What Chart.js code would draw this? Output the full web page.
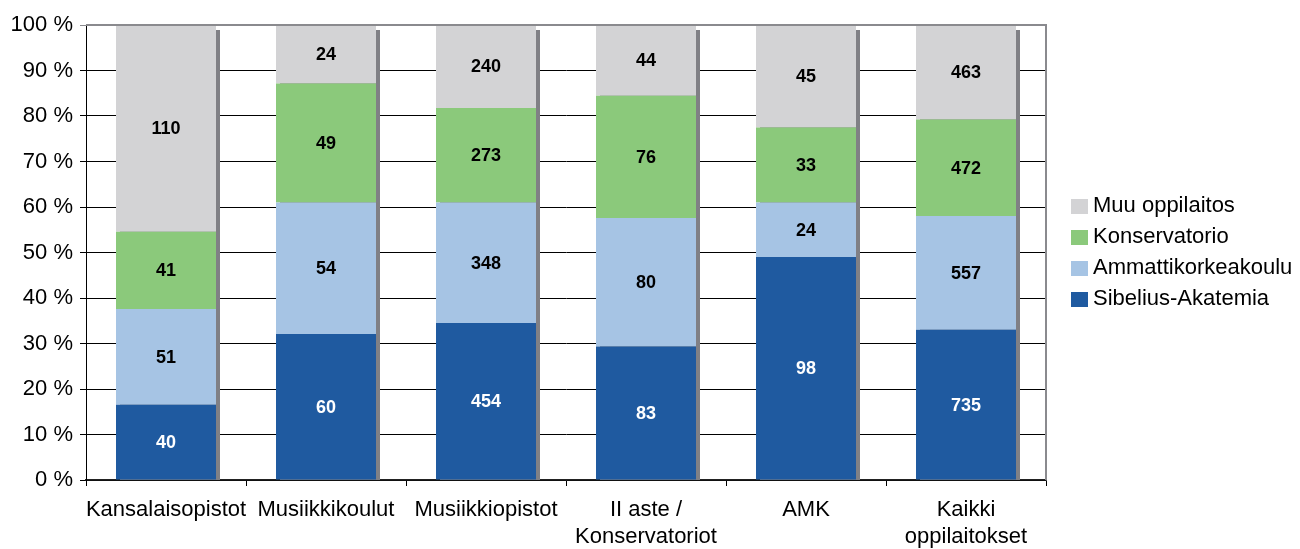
<!DOCTYPE html>
<html>
<head>
<meta charset="utf-8">
<script src="https://cdn.jsdelivr.net/npm/chart.js@4.4.1/dist/chart.umd.min.js"></script>
<style>
    body { margin: 0; background: #fff; }
    #wrap { position: relative; width: 1300px; height: 549px; }
    #legend { position: absolute; left: 1071px; top: 189px; font-family: "Liberation Sans", Arial, sans-serif; font-size: 22px; color: #000; }
    #legend .item { display: flex; align-items: center; height: 31px; white-space: nowrap; }
    #legend .box { width: 17px; height: 15px; margin-right: 5px; position: relative; top: 2px; }
</style>
</head>
<body>
<div id="wrap">
    <canvas id="chart" width="1300" height="549"></canvas>
    <div id="legend"></div>
</div>
<script>
    // oppilaitos-luokat ja lukumäärät
    var categories = ['Kansalaisopistot', 'Musiikkikoulut', 'Musiikkiopistot', ['II aste /', 'Konservatoriot'], 'AMK', ['Kaikki', 'oppilaitokset']];
    var sibelius = [40, 60, 454, 83, 98, 735];
    var amk = [51, 54, 348, 80, 24, 557];
    var konservatorio = [41, 49, 273, 76, 33, 472];
    var muu = [110, 24, 240, 44, 45, 463];
    var seriesNames = ['Sibelius-Akatemia', 'Ammattikorkeakoulu', 'Konservatorio', 'Muu oppilaitos'];
    var seriesColors = ['#1f5aa0', '#a6c4e4', '#8bc97b', '#d3d3d5'];
    var labelColors = ['#fff', '#000', '#000', '#000'];

    var counts = [sibelius, amk, konservatorio, muu];
    var totals = categories.map(function (c, i) {
        return sibelius[i] + amk[i] + konservatorio[i] + muu[i];
    });

    function toPct(arr) {
        return arr.map(function (v, i) { return v / totals[i] * 100; });
    }

    var FONT = '"Liberation Sans", Arial, sans-serif';

    var barShadow = {
        id: 'barShadow',
        beforeDatasetsDraw: function (chart) {
            var ctx = chart.ctx;
            var area = chart.chartArea;
            var top = chart.getDatasetMeta(counts.length - 1).data;
            ctx.save();
            ctx.fillStyle = '#808085';
            top.forEach(function (bar) {
                var p = bar.getProps(['x', 'y', 'width'], true);
                ctx.fillRect(p.x - p.width / 2 + 4, p.y + 5, p.width, area.bottom - p.y - 5);
            });
            ctx.restore();
        }
    };

    var frame = {
        id: 'frame',
        afterDatasetsDraw: function (chart) {
            var ctx = chart.ctx;
            var a = chart.chartArea;
            ctx.save();
            ctx.strokeStyle = '#8a8a8e';
            ctx.lineWidth = 2;
            ctx.beginPath();
            ctx.moveTo(a.left, a.top);
            ctx.lineTo(a.right, a.top);
            ctx.lineTo(a.right, a.bottom);
            ctx.stroke();
            ctx.restore();
        }
    };

    var countLabels = {
        id: 'countLabels',
        afterDatasetsDraw: function (chart) {
            var ctx = chart.ctx;
            ctx.save();
            ctx.font = 'bold 18px ' + FONT;
            ctx.textAlign = 'center';
            ctx.textBaseline = 'middle';
            counts.forEach(function (arr, di) {
                var meta = chart.getDatasetMeta(di);
                ctx.fillStyle = labelColors[di];
                meta.data.forEach(function (bar, i) {
                    var p = bar.getProps(['x', 'y', 'base'], true);
                    ctx.fillText(String(arr[i]), p.x, (p.y + p.base) / 2 + 1);
                });
            });
            ctx.restore();
        }
    };

    var chart = new Chart(document.getElementById('chart'), {
        type: 'bar',
        data: {
            labels: categories,
            datasets: counts.map(function (arr, i) {
                return {
                    label: seriesNames[i],
                    data: toPct(arr),
                    backgroundColor: seriesColors[i],
                    borderWidth: 0,
                    barPercentage: 0.625,
                    categoryPercentage: 1
                };
            })
        },
        options: {
            responsive: false,
            animation: false,
            layout: { padding: { top: 25, right: 254, bottom: 0, left: 0 } },
            plugins: {
                legend: { display: false },
                tooltip: { enabled: false }
            },
            scales: {
                x: {
                    stacked: true,
                    offset: true,
                    grid: {
                        offset: true,
                        drawOnChartArea: false,
                        color: '#000',
                        tickLength: 6
                    },
                    border: { color: '#222', width: 1.5 },
                    ticks: {
                        color: '#000',
                        font: { family: FONT, size: 22, lineHeight: 1.22 },
                        padding: 11,
                        maxRotation: 0,
                        autoSkip: false
                    },
                    afterFit: function (scale) { scale.height = 69; }
                },
                y: {
                    stacked: true,
                    min: 0,
                    max: 100,
                    grid: {
                        color: function (c) { return c.tick && c.tick.value === 100 ? '#8a8a8e' : '#000'; },
                        tickLength: 6
                    },
                    border: { color: '#000' },
                    ticks: {
                        stepSize: 10,
                        color: '#000',
                        padding: 7,
                        font: { family: FONT, size: 22 },
                        callback: function (v) { return v + ' %'; }
                    },
                    afterFit: function (scale) { scale.width = 86; }
                }
            }
        },
        plugins: [barShadow, frame, countLabels]
    });

    // selite käänteisessä järjestyksessä kuten alkuperäisessä
    var legend = document.getElementById('legend');
    chart.data.datasets.slice().reverse().forEach(function (ds) {
        var item = document.createElement('div');
        item.className = 'item';
        var box = document.createElement('span');
        box.className = 'box';
        box.style.background = ds.backgroundColor;
        var txt = document.createElement('span');
        txt.textContent = ds.label;
        item.appendChild(box);
        item.appendChild(txt);
        legend.appendChild(item);
    });
</script>
</body>
</html>
